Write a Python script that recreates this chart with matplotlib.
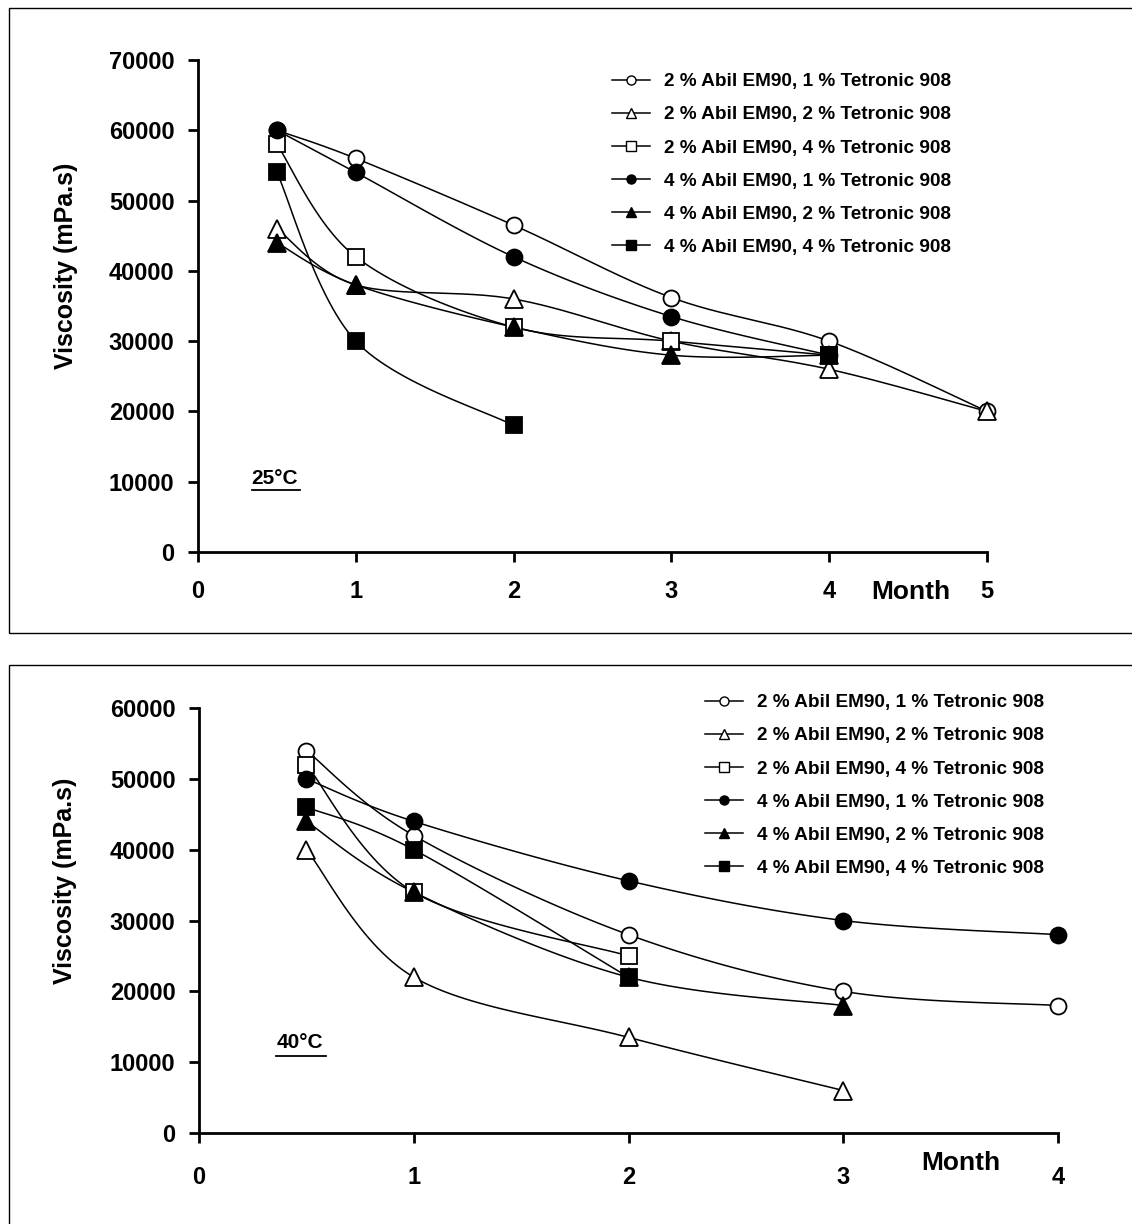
import numpy as np
import matplotlib
matplotlib.use("Agg")
import matplotlib.pyplot as plt
from matplotlib.lines import Line2D
from matplotlib.patches import Rectangle

plt.rcParams['font.family'] = ['Liberation Sans', 'DejaVu Sans']
plt.rcParams['font.weight'] = 'bold'

# ---------------- data ----------------
labels = [
    "2 % Abil EM90, 1 % Tetronic 908",
    "2 % Abil EM90, 2 % Tetronic 908",
    "2 % Abil EM90, 4 % Tetronic 908",
    "4 % Abil EM90, 1 % Tetronic 908",
    "4 % Abil EM90, 2 % Tetronic 908",
    "4 % Abil EM90, 4 % Tetronic 908",
]
markers = ['o', '^', 's', 'o', '^', 's']
fills = ['white', 'white', 'white', 'black', 'black', 'black']

months_25 = [0.5, 1, 2, 3, 4, 5]
visc_25_a2_t1 = [60000, 56000, 46500, 36200, 30000, 20000]
visc_25_a2_t2 = [46000, 38000, 36000, 30000, 26000, 20000]
visc_25_a2_t4 = [58000, 42000, 32000, 30000, 28000, np.nan]
visc_25_a4_t1 = [60000, 54000, 42000, 33500, 28000, np.nan]
visc_25_a4_t2 = [44000, 38000, 32000, 28000, 28000, np.nan]
visc_25_a4_t4 = [54000, 30000, 18000, np.nan, 28000, np.nan]

months_40 = [0.5, 1, 2, 3, 4]
visc_40_a2_t1 = [54000, 42000, 28000, 20000, 18000]
visc_40_a2_t2 = [40000, 22000, 13500, 6000, np.nan]
visc_40_a2_t4 = [52000, 34000, 25000, np.nan, np.nan]
visc_40_a4_t1 = [50000, 44000, 35600, 30000, 28000]
visc_40_a4_t2 = [44000, 34000, 22000, 18000, np.nan]
visc_40_a4_t4 = [46000, 40000, 22000, np.nan, np.nan]

series_25 = [visc_25_a2_t1, visc_25_a2_t2, visc_25_a2_t4,
             visc_25_a4_t1, visc_25_a4_t2, visc_25_a4_t4]
series_40 = [visc_40_a2_t1, visc_40_a2_t2, visc_40_a2_t4,
             visc_40_a4_t1, visc_40_a4_t2, visc_40_a4_t4]


def smooth(xs, ys, n=30):
    """Excel-like smoothed (Bezier) path through the given points."""
    xs = np.asarray(xs, float)
    ys = np.asarray(ys, float)
    if len(xs) < 2:
        return xs, ys
    P = np.column_stack([xs, ys])
    outx, outy = [], []
    m = len(P)
    for i in range(m - 1):
        p0 = P[i - 1] if i > 0 else P[i]
        p1 = P[i]
        p2 = P[i + 1]
        p3 = P[i + 2] if i + 2 < m else P[i + 1]
        c1 = p1 + (p2 - p0) / 6.0
        c2 = p2 - (p3 - p1) / 6.0
        t = np.linspace(0, 1, n)[:, None]
        b = ((1 - t) ** 3) * p1 + 3 * ((1 - t) ** 2) * t * c1 + 3 * (1 - t) * t ** 2 * c2 + t ** 3 * p2
        outx.extend(b[:, 0]); outy.extend(b[:, 1])
    return np.array(outx), np.array(outy)


def draw_series(ax, xs, ys, marker, fill):
    xs = np.asarray(xs, float); ys = np.asarray(ys, float)
    ok = ~np.isnan(ys)
    runs, cur = [], []
    for x, y, k in zip(xs, ys, ok):
        if k:
            cur.append((x, y))
        else:
            if cur:
                runs.append(cur); cur = []
    if cur:
        runs.append(cur)
    for r in runs:
        rx, ry = zip(*r)
        sx, sy = smooth(rx, ry)
        ax.plot(sx, sy, color='black', lw=1.1, zorder=2, clip_on=False)
    ms = 11.5 if marker == 'o' else (12.5 if marker == '^' else 11.5)
    ax.plot(xs[ok], ys[ok], linestyle='none', marker=marker, markersize=ms,
            markerfacecolor=fill, markeredgecolor='black', markeredgewidth=1.3,
            zorder=3, clip_on=False)


W, H = 1132, 1224
fig = plt.figure(figsize=(W / 100, H / 100), dpi=100)

# panel frames
fig.patches.append(Rectangle((9 / W, 1 - 633 / H), 1.2, 625 / H, transform=fig.transFigure,
                             fill=False, edgecolor='black', lw=1.0))
fig.patches.append(Rectangle((9 / W, -0.2), 1.2, 0.2 + 1 - 665 / H, transform=fig.transFigure,
                             fill=False, edgecolor='black', lw=1.0))

TICK_FS = 17


def style_axes(ax, xmax, ymax, ystep, xpad):
    ax.set_xlim(0, xmax)
    ax.set_ylim(0, ymax)
    ax.set_xticks(range(0, xmax + 1))
    ax.set_yticks(range(0, ymax + 1, ystep))
    for s in ['top', 'right']:
        ax.spines[s].set_visible(False)
    for s in ['left', 'bottom']:
        ax.spines[s].set_linewidth(2.0)
    ax.tick_params(axis='y', direction='out', length=7, width=2.0, pad=10, labelsize=TICK_FS)
    ax.tick_params(axis='x', direction='out', length=7, width=2.0, pad=xpad, labelsize=TICK_FS)
    for t in ax.get_xticklabels() + ax.get_yticklabels():
        t.set_fontweight('bold')
    ax.patch.set_alpha(0)


def add_legend(ax, x0, y0):
    handles = [Line2D([0], [0], color='black', lw=1.1, marker=m, markersize=6.5,
                      markerfacecolor=f, markeredgecolor='black', markeredgewidth=1.0)
               for m, f in zip(markers, fills)]
    ax.legend(handles, labels, loc='upper left', bbox_to_anchor=(x0, y0),
              bbox_transform=fig.transFigure, frameon=False, handlelength=2.0,
              handletextpad=0.75, labelspacing=0.83, borderpad=0, borderaxespad=0,
              prop={'weight': 'bold', 'size': 13.7})


# ---------------- top chart (25°C) ----------------
ax1 = fig.add_axes([198 / W, 1 - 552 / H, 789 / W, 492 / H])
for ys, m, f in zip(series_25, markers, fills):
    draw_series(ax1, months_25, ys, m, f)
style_axes(ax1, 5, 70000, 10000, 13)
ax1.set_ylabel("Viscosity (mPa.s)", fontsize=18, fontweight='bold')
ax1.yaxis.set_label_coords(-0.152, 0.581)
fig.text(911 / W, 1 - 592 / H, "Month", ha='center', va='center', fontsize=19, fontweight='bold')
ax1.text(0.068, 0.150, "25°C", transform=ax1.transAxes, fontsize=15, fontweight='bold',
         ha='left', va='center')
ax1.plot([0.068, 0.129], [0.127, 0.127], transform=ax1.transAxes, color='black', lw=1.3, clip_on=False)
add_legend(ax1, 612 / W, 1 - 73 / H)

# ---------------- bottom chart (40°C) ----------------
ax2 = fig.add_axes([199 / W, 1 - 1133 / H, 859 / W, 425 / H])
for ys, m, f in zip(series_40, markers, fills):
    draw_series(ax2, months_40, ys, m, f)
style_axes(ax2, 4, 60000, 10000, 17)
ax2.set_ylabel("Viscosity (mPa.s)", fontsize=18, fontweight='bold')
ax2.yaxis.set_label_coords(-0.142, 0.593)
fig.text(961 / W, 1 - 1163 / H, "Month", ha='center', va='center', fontsize=19, fontweight='bold')
ax2.text(0.09, 0.212, "40°C", transform=ax2.transAxes, fontsize=15, fontweight='bold',
         ha='left', va='center')
ax2.plot([0.09, 0.148], [0.181, 0.181], transform=ax2.transAxes, color='black', lw=1.3, clip_on=False)
add_legend(ax2, 705 / W, 1 - 694 / H)

fig.savefig("out.png", dpi=100)
